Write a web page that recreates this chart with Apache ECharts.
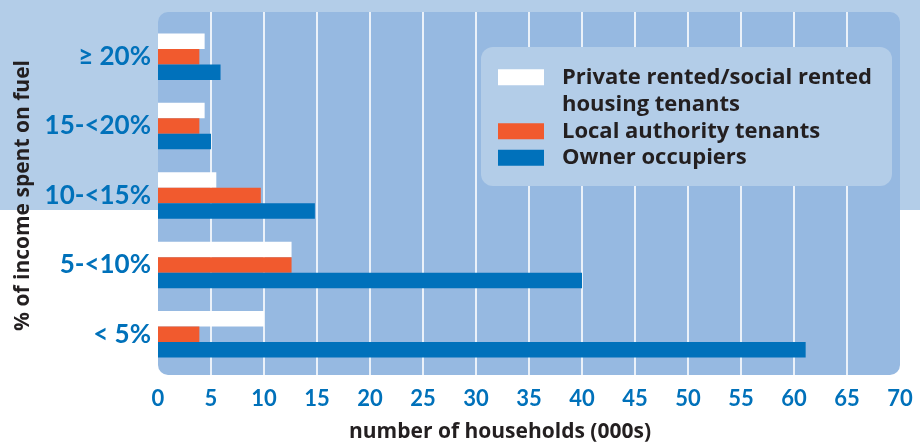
<!DOCTYPE html>
<html>
<head>
<meta charset="utf-8">
<script src="https://cdn.jsdelivr.net/npm/echarts@6/dist/echarts.min.js"></script>
<style>
html,body{margin:0;padding:0;background:#fff;}
#chart{width:920px;height:442px;}
</style>
</head>
<body>
<div id="chart"></div>
<script>
var categories = ['< 5%', '5-<10%', '10-<15%', '15-<20%', '≥ 20%'];
var privateRented = [10.0, 12.6, 5.5, 4.4, 4.4];
var localAuthority = [3.9, 12.6, 9.7, 3.9, 3.9];
var ownerOccupiers = [61.1, 40.0, 14.8, 5.0, 5.9];
var seriesNames = ['Private rented/social rented\nhousing tenants', 'Local authority tenants', 'Owner occupiers'];
var xTickMin = 0, xTickMax = 70, xTickStep = 5;

var FONT = 'Lato';
var FONT2 = 'Open Sans';
var BLUE_TXT = '#0071BA';
var DARK = '#231F20';

var chart = echarts.init(document.getElementById('chart'), null, {renderer: 'canvas'});
chart.setOption({
  animation: false,
  backgroundColor: '#ffffff',
  graphic: [
    {type: 'rect', z: -20, silent: true, shape: {x: 0, y: 0, width: 920, height: 210}, style: {fill: '#B3CDE8'}},
    {type: 'rect', z: -19, silent: true, shape: {x: 158, y: 12, width: 742, height: 363, r: 10}, style: {fill: '#96B9E1'}},
    {type: 'rect', z: 5, silent: true, shape: {x: 481, y: 47, width: 411, height: 139, r: 12}, style: {fill: '#B3CDE8'}}
  ],
  grid: [
    {left: 158, right: 20, top: 12, bottom: 67, outerBoundsMode: 'none', containLabel: false},
    {left: 158, right: 20, top: 22, bottom: 73, outerBoundsMode: 'none', containLabel: false}
  ],
  legend: {
    z: 6,
    orient: 'vertical',
    left: 498,
    top: 36,
    padding: 0,
    itemGap: -1,
    itemWidth: 46,
    itemHeight: 16,
    icon: 'rect',
    selectedMode: false,
    formatter: function (name) { return name === seriesNames[0] ? '\u00a0\n' + name : name; },
    textStyle: {fontFamily: FONT2, fontWeight: 'bold', fontSize: 22, color: DARK, lineHeight: 27.5, padding: [0, 0, 0, 13]},
    data: seriesNames.slice()
  },
  xAxis: [
    {
      gridIndex: 0, type: 'value', min: xTickMin, max: xTickMax, interval: xTickStep,
      axisLine: {show: false}, axisTick: {show: false},
      axisLabel: {color: BLUE_TXT, fontFamily: FONT, fontWeight: 'bold', fontSize: 22, margin: 13},
      splitLine: {show: true, showMinLine: false, showMaxLine: false, lineStyle: {color: '#ffffff', width: 1.6}},
      name: 'number of households (000s)', nameLocation: 'middle', nameGap: 47,
      nameTextStyle: {color: DARK, fontFamily: FONT2, fontWeight: 'bold', fontSize: 21, padding: [0, 58, 0, 0]}
    },
    {
      gridIndex: 1, type: 'value', min: xTickMin, max: xTickMax, interval: xTickStep, show: false,
      splitLine: {show: false}
    }
  ],
  yAxis: [
    {gridIndex: 0, type: 'value', show: false, splitLine: {show: false}},
    {
      gridIndex: 1, type: 'category', data: categories,
      axisLine: {show: false}, axisTick: {show: false},
      axisLabel: {color: BLUE_TXT, fontFamily: FONT, fontWeight: 'bold', fontSize: 26, margin: 7},
      name: '% of income spent on fuel', nameLocation: 'middle', nameGap: 122,
      nameTextStyle: {color: DARK, fontFamily: FONT2, fontWeight: 'bold', fontSize: 21}
    }
  ],
  series: [
    {name: seriesNames[0], type: 'bar', xAxisIndex: 1, yAxisIndex: 1, data: privateRented, itemStyle: {color: '#FFFFFF'}, barGap: '0%', barCategoryGap: '33%'},
    {name: seriesNames[1], type: 'bar', xAxisIndex: 1, yAxisIndex: 1, data: localAuthority, itemStyle: {color: '#F15A2E'}, barGap: '0%', barCategoryGap: '33%'},
    {name: seriesNames[2], type: 'bar', xAxisIndex: 1, yAxisIndex: 1, data: ownerOccupiers, itemStyle: {color: '#0071BB'}, barGap: '0%', barCategoryGap: '33%'}
  ]
});
</script>
</body>
</html>
